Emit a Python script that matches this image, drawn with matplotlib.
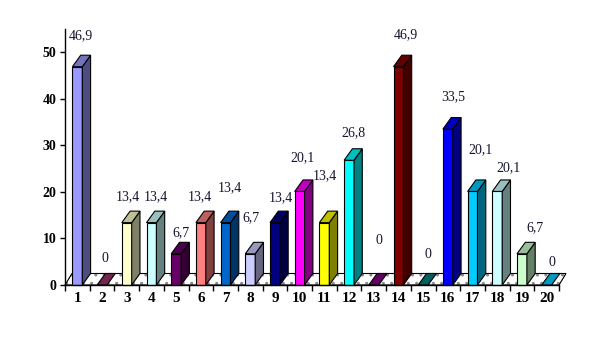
import matplotlib
matplotlib.use("Agg")
import matplotlib.pyplot as plt
from matplotlib.patches import Polygon
from matplotlib.colors import to_rgb

categories = [str(i) for i in range(1, 21)]
values = [46.9, 0, 13.4, 13.4, 6.7, 13.4, 13.4, 6.7, 13.4, 20.1,
          13.4, 26.8, 0, 46.9, 0, 33.5, 20.1, 20.1, 6.7, 0]
value_labels = ["46,9", "0", "13,4", "13,4", "6,7", "13,4", "13,4", "6,7", "13,4", "20,1",
                "13,4", "26,8", "0", "46,9", "0", "33,5", "20,1", "20,1", "6,7", "0"]
bar_colors = ["#9999FF", "#993366", "#FFFFCC", "#CCFFFF", "#660066", "#FF8080", "#0066CC",
              "#CCCCFF", "#000080", "#FF00FF", "#FFFF00", "#00FFFF", "#800080", "#800000",
              "#008080", "#0000FF", "#00CCFF", "#CCFFFF", "#CCFFCC", "#00CCFF"]
yticks = [0, 10, 20, 30, 40, 50]

# label offsets (pixels) relative to bar front-top centre
label_dx = [4, 3, 1, 4.5, 5, -1, 4, 1, 6, 3, 1, 4, 5, 7, 5, 5, 8, 11, 13, 5]
label_dy = [31, 26, 26, 26, 21, 26, 35, 36, 25, 34, 47, 28, 45, 32, 31, 32, 42, 24, 26, 22]

plt.rcParams['hatch.color'] = '#8a8a8a'
plt.rcParams['hatch.linewidth'] = 1.0

W, H, DPI = 599, 361, 100
fig = plt.figure(figsize=(W / DPI, H / DPI), dpi=DPI)
fig.patch.set_facecolor('white')

left_px, right_px, base_px, top_px = 65, 559, 285, 29
ax = fig.add_axes([left_px / W, (H - base_px) / H, (right_px - left_px) / W, (base_px - top_px) / H])
ax.set_xlim(0.5, 20.5)
ax.set_ylim(0, 55)
ax.patch.set_alpha(0)

px_per_x = (right_px - left_px) / 20.0
px_per_y = (base_px - top_px) / 55.0
ddx = 8.3 / px_per_x      # depth offset in data x
ddy = 11.5 / px_per_y     # depth offset in data y
fdx = 7.0 / px_per_x

half = 0.2
n = len(values)

# floor
floor = [(0.5, 0), (0.5 + n, 0), (0.5 + n + fdx, ddy), (0.5 + fdx, ddy)]
ax.add_patch(Polygon(floor, closed=True, facecolor='white', edgecolor='#8a8a8a',
                     hatch='..', lw=0.3, clip_on=False, zorder=1))
ax.add_patch(Polygon(floor, closed=True, facecolor='none', edgecolor='black',
                     lw=0.8, clip_on=False, zorder=1.5))


def shade(c, f):
    r, g, b = to_rgb(c)
    return (r * f, g * f, b * f)


for i, (v, c) in enumerate(zip(values, bar_colors)):
    x = i + 1
    x0, x1 = x - half, x + half
    top = [(x0, v), (x1, v), (x1 + ddx, v + ddy), (x0 + ddx, v + ddy)]
    if v > 0:
        ax.add_patch(Polygon([(x0, 0), (x1, 0), (x1, v), (x0, v)], closed=True,
                             facecolor=c, edgecolor='black', lw=0.8, clip_on=False, zorder=3))
        ax.add_patch(Polygon([(x1, 0), (x1 + ddx, ddy), (x1 + ddx, v + ddy), (x1, v)], closed=True,
                             facecolor=shade(c, 0.5), edgecolor='black', lw=0.8, clip_on=False, zorder=3))
    ax.add_patch(Polygon(top, closed=True, facecolor=shade(c, 0.75), edgecolor='black',
                         lw=0.8, clip_on=False, zorder=3))
    ax.annotate(value_labels[i], xy=(x, v), xytext=(label_dx[i], label_dy[i]),
                textcoords='offset pixels', ha='center', va='center',
                fontsize=10, family='Liberation Serif', color='#141430',
                annotation_clip=False, zorder=5)

for s in ['top', 'right']:
    ax.spines[s].set_visible(False)
for s in ['left', 'bottom']:
    ax.spines[s].set_linewidth(1.0)
    ax.spines[s].set_zorder(4)

ax.set_yticks(yticks)
ax.set_yticklabels([str(t) for t in yticks], fontsize=10, fontweight='bold', family='Liberation Serif')
ax.tick_params(axis='y', direction='out', length=3.6, width=1, pad=2.5)

ax.set_xticks([i + 0.5 for i in range(0, n + 1)])
ax.set_xticklabels([])
ax.tick_params(axis='x', which='major', direction='out', length=4.5, width=1)
ax.set_xticks(range(1, n + 1), minor=True)
ax.set_xticklabels(categories, minor=True, fontsize=11, fontweight='bold', family='Liberation Serif')
ax.tick_params(axis='x', which='minor', length=0, pad=5)

fig.savefig('out.png', dpi=DPI)
